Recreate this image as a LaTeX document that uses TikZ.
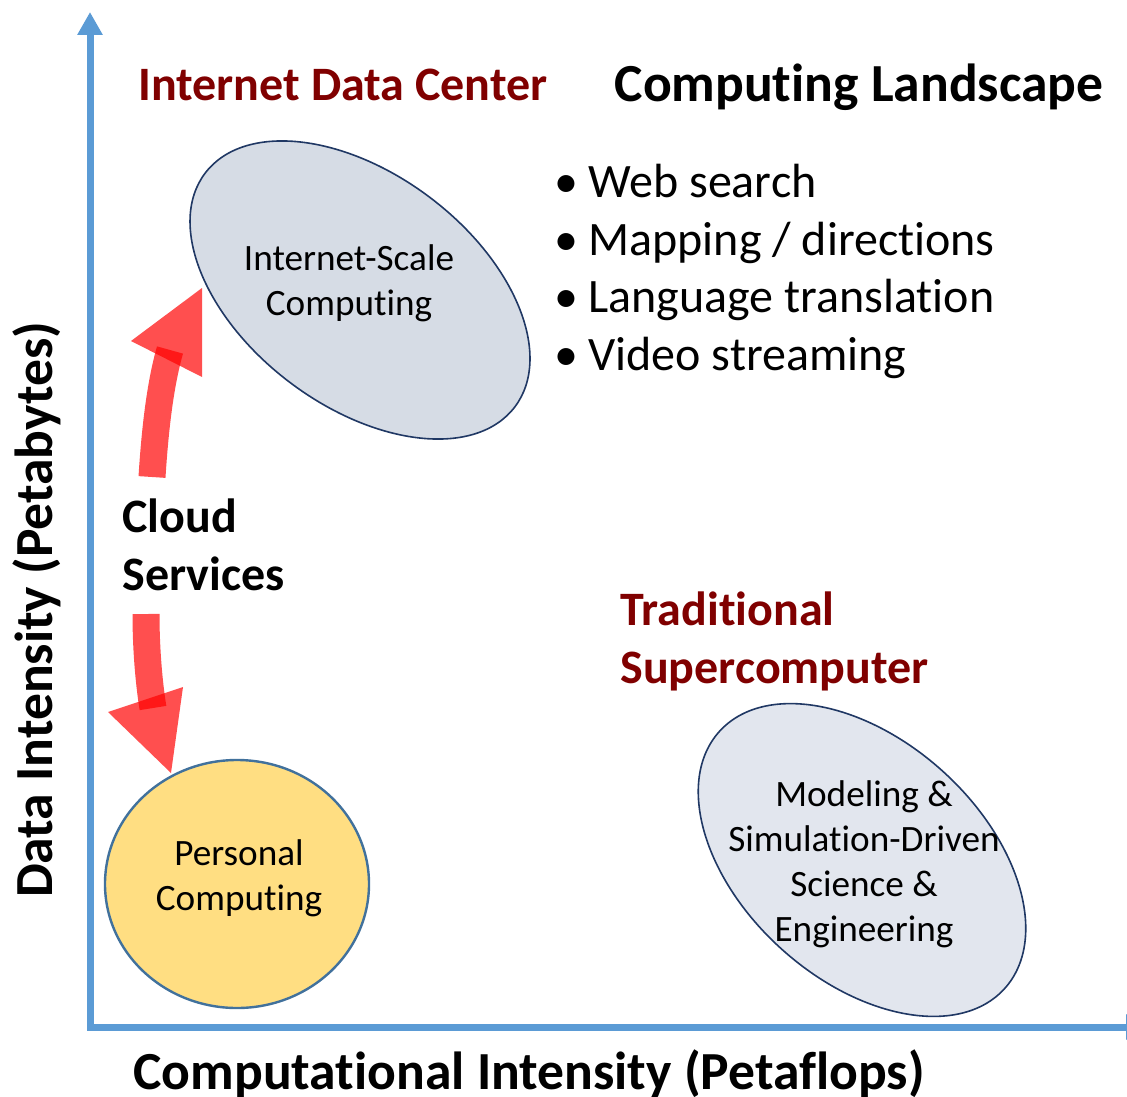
\documentclass[tikz,border=0pt]{standalone}
\usepackage{fontspec}
\setmainfont{Carlito}[Ligatures=NoCommon]
\usetikzlibrary{arrows.meta,shapes.geometric}

\definecolor{axisblue}{HTML}{5B9BD5}
\definecolor{darkred}{HTML}{800000}
\definecolor{scalefill}{HTML}{D6DCE5}
\definecolor{simfill}{HTML}{E2E6EE}
\definecolor{navyline}{HTML}{203864}
\definecolor{pcfill}{HTML}{FFDE82}
\definecolor{pcline}{HTML}{41719C}

\begin{document}
\begin{tikzpicture}[x=0.5pt,y=-0.5pt,
  axis/.style={draw=axisblue,line width=3.5pt,
    {Triangle[length=11.5pt,width=12pt]}-{Triangle[length=11.5pt,width=12pt]}},
  blob/.style={ellipse,draw=navyline,line width=.8pt,inner sep=0pt},
  blobtext/.style={align=center,font=\fontsize{18.6}{22.5}\selectfont},
  heading/.style={inner sep=0pt,font=\fontsize{24}{28.75}\selectfont\bfseries},
  axislabel/.style={inner sep=0pt,font=\fontsize{26.8}{32}\selectfont\bfseries},
  shaft/.style={draw=red,draw opacity=.69,line width=13.5pt},
  head/.style={fill=red,fill opacity=.69}]
\useasboundingbox[fill=white] (0,0) rectangle (1127,1096);

% axes
\coordinate (ytip) at (90,12);
\coordinate (origin) at (90,1027);
\coordinate (xtip) at (1149,1027);
\draw[axis] (ytip) -- (origin) -- (xtip);
\node[axislabel,anchor=base] (xlabel) at (529,1089)
  {Computational Intensity (Petaflops)};
\node[axislabel,anchor=base,rotate=90] (ylabel) at (52,610)
  {Data Intensity (Petabytes)};

% the three regions (multi-line text sits on its last baseline)
\node[blob,fill=scalefill,minimum width=194pt,minimum height=116pt,
  rotate=-37] (scale) at (360,290) {};
\node[blobtext,anchor=base] (scaletext) at (349,315)
  {Internet-Scale\\Computing};
\node[blob,fill=simfill,minimum width=192pt,minimum height=120pt,
  rotate=-42] (sim) at (862,860) {};
\node[blobtext,anchor=base] (simtext) at (864,941)
  {Modeling \&\\Simulation-Driven\\Science \&\\Engineering};
\node[blob,draw=pcline,line width=1.2pt,fill=pcfill,
  minimum width=132pt,minimum height=124pt] (pc) at (237,884) {};
\node[blobtext,anchor=base] (pctext) at (239,910) {Personal\\Computing};

% headings
\node[heading,text=darkred,anchor=base] (idc) at (343,101)
  {Internet Data Center};
\node[axislabel,anchor=base] (title) at (859,102) {Computing Landscape};
\node[heading,text=darkred,anchor=base west,align=left] (trad)
  at (620,683) {Traditional\\Supercomputer};
\node[heading,anchor=base west,align=left] (cloud) at (122,590)
  {Cloud\\Services};
\node[inner sep=0pt,anchor=base west,align=left,
  font=\fontsize{24}{28.75}\selectfont] (uses) at (554,370)
  {\makebox[17pt][l]{•}Web search\\
   \makebox[17pt][l]{•}Mapping / directions\\
   \makebox[17pt][l]{•}Language translation\\
   \makebox[17pt][l]{•}Video streaming};

% cloud arrows
\coordinate (upfoot) at (152,477);
\coordinate (upend) at (170,350);
\coordinate (uptip) at (202,288);
\coordinate (upleft) at (131,341);
\coordinate (upright) at (202,377);
\draw[shaft] (upfoot) .. controls (155,430) and (160,385) .. (upend);
\fill[head] (upleft) -- (uptip) -- (upright) -- cycle;
\coordinate (downfoot) at (146,614);
\coordinate (downend) at (153,708);
\coordinate (downtip) at (171,773);
\coordinate (downleft) at (108,712);
\coordinate (downright) at (183,687);
\draw[shaft] (downfoot) .. controls (146,655) and (150,690) .. (downend);
\fill[head] (downleft) -- (downright) -- (downtip) -- cycle;
\end{tikzpicture}
\end{document}
